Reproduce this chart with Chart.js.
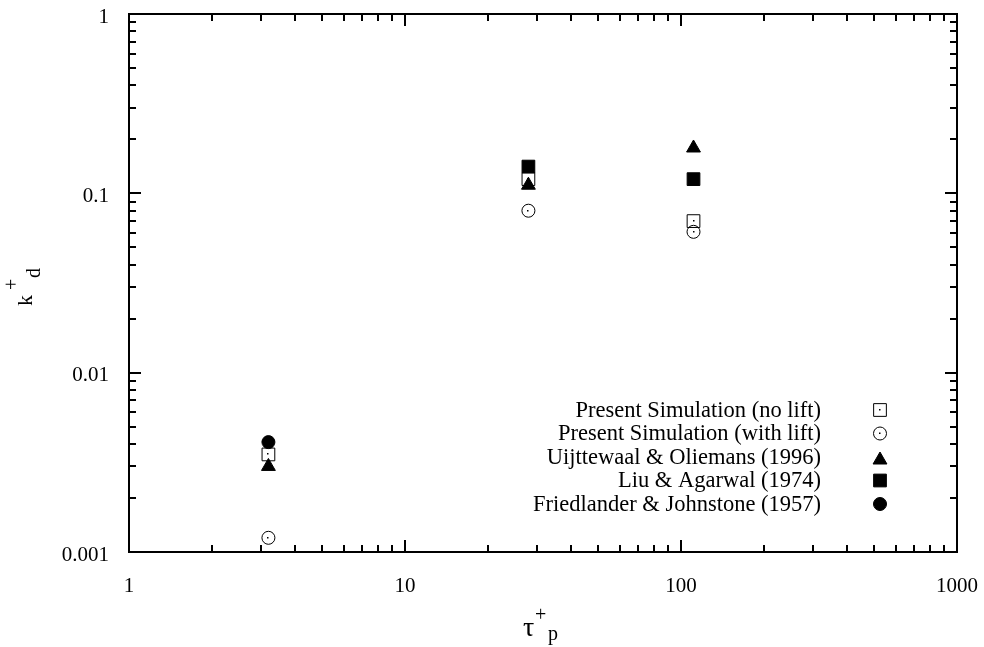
<!DOCTYPE html>
<html>
<head>
<meta charset="utf-8">
<script src="https://cdn.jsdelivr.net/npm/chart.js@4/dist/chart.umd.min.js"></script>
<style>
  html, body { margin: 0; padding: 0; background: #fff; }
</style>
</head>
<body>
<canvas id="plot" width="984" height="647"></canvas>
<script>
// deposition rate k+d against particle relaxation time tau+p
var tauNoLift = [3.2, 28, 111]
var kdNoLift = [0.0035, 0.12, 0.07]
var tauLift = [3.2, 28, 111]
var kdLift = [0.0012, 0.08, 0.061]
var tauUijt = [3.2, 28, 111]
var kdUijt = [0.003, 0.111, 0.179]
var tauLiu = [28, 111]
var kdLiu = [0.141, 0.12]
var tauFried = [3.2]
var kdFried = [0.0041]

var seriesNames = [
    "Present Simulation (no lift)",
    "Present Simulation (with lift)",
    "Uijttewaal & Oliemans (1996)",
    "Liu & Agarwal (1974)",
    "Friedlander & Johnstone (1957)"
]
var xTicks = [1, 10, 100, 1000]
var yTicks = [0.001, 0.01, 0.1, 1]

var FONT = "'Liberation Serif', 'Times New Roman', serif"

function pts(xs, ys){
    return xs.map((x, i) => ({x: x, y: ys[i]}))
}

function makeSet(i, xs, ys, style, radius, filled, order){
    return {
        label: seriesNames[i],
        data: pts(xs, ys),
        pointStyle: style,
        pointRadius: radius,
        pointBorderWidth: 1,
        pointBorderColor: 'black',
        pointBackgroundColor: filled ? 'black' : 'rgba(0,0,0,0)',
        showLine: false,
        centreDot: !filled,
        order: order
    }
}

var datasets = [
    makeSet(0, tauNoLift, kdNoLift, 'rect', 9, false, 5),
    makeSet(1, tauLift, kdLift, 'circle', 6.5, false, 4),
    makeSet(2, tauUijt, kdUijt, 'triangle', 8, true, 3),
    makeSet(3, tauLiu, kdLiu, 'rect', 9, true, 2),
    makeSet(4, tauFried, kdFried, 'circle', 6.5, true, 1)
]

// log decades: long tick at 10^n, short ticks at m*10^n
function tickList(min, max){
    var out = []
    for (var d = Math.round(Math.log10(min)); d < Math.round(Math.log10(max)); d++){
        var base = Math.pow(10, d)
        out.push({v: base, major: true})
        for (var m = 2; m <= 9; m++) out.push({v: m * base, major: false})
    }
    out.push({v: max, major: true})
    return out
}

var framePlugin = {
    id: 'frame',
    beforeDatasetsDraw(chart){
        var ctx = chart.ctx
        var a = chart.chartArea
        var xs = chart.scales.x, ys = chart.scales.y
        ctx.save()
        ctx.strokeStyle = 'black'
        ctx.lineWidth = 2
        ctx.strokeRect(a.left, a.top, a.right - a.left, a.bottom - a.top)
        ctx.beginPath()
        tickList(1, 1000).forEach(t => {
            var px = Math.round(xs.getPixelForValue(t.v))
            var len = t.major ? 12 : 7
            ctx.moveTo(px, a.bottom); ctx.lineTo(px, a.bottom - len)
            ctx.moveTo(px, a.top); ctx.lineTo(px, a.top + len)
        })
        tickList(0.001, 1).forEach(t => {
            var py = Math.round(ys.getPixelForValue(t.v))
            var len = t.major ? 12 : 7
            ctx.moveTo(a.left, py); ctx.lineTo(a.left + len, py)
            ctx.moveTo(a.right, py); ctx.lineTo(a.right - len, py)
        })
        ctx.stroke()
        ctx.restore()
    },
    afterDatasetsDraw(chart){
        var ctx = chart.ctx
        ctx.save()
        ctx.fillStyle = 'black'
        chart.data.datasets.forEach((ds, i) => {
            if (!ds.centreDot) return
            chart.getDatasetMeta(i).data.forEach(p => {
                ctx.fillRect(Math.round(p.x) - 1, Math.round(p.y) - 1, 1.5, 1.5)
            })
        })
        ctx.restore()
    },
    afterDraw(chart){
        var ctx = chart.ctx
        ctx.save()
        ctx.fillStyle = 'black'

        // key, text right-aligned with the symbol to its right
        ctx.font = '22.5px ' + FONT
        ctx.textAlign = 'right'
        ctx.textBaseline = 'middle'
        chart.data.datasets.forEach((ds, i) => {
            var y = 410 + i * 23.5
            ctx.fillText(ds.label, 821, y + 1)
            ctx.fillStyle = ds.pointBackgroundColor
            ctx.strokeStyle = 'black'
            ctx.lineWidth = 1
            Chart.helpers.drawPoint(ctx, {
                pointStyle: ds.pointStyle, radius: ds.pointRadius,
                borderWidth: 1, rotation: 0
            }, 880, ds.pointStyle == 'triangle' ? y + 3 : y)
            if (ds.centreDot){
                ctx.fillStyle = 'black'
                ctx.fillRect(879, y - 1, 1.5, 1.5)
            }
            ctx.fillStyle = 'black'
        })

        // x title: tau with + superscript and p subscript
        ctx.textAlign = 'left'
        ctx.textBaseline = 'alphabetic'
        ctx.font = '28px ' + FONT
        ctx.fillText('\u03C4', 523, 636)
        ctx.font = '20px ' + FONT
        ctx.fillText('+', 535, 621)
        ctx.fillText('p', 548, 640)

        // y title: k with + superscript and d subscript, rotated
        ctx.translate(32, 306)
        ctx.rotate(-Math.PI / 2)
        ctx.font = '22px ' + FONT
        ctx.fillText('k', 0, 0)
        ctx.font = '20px ' + FONT
        ctx.fillText('+', 16, -14)
        ctx.fillText('d', 28, 8)
        ctx.restore()
    }
}

var chart = new Chart(document.getElementById('plot').getContext('2d'), {
    type: 'scatter',
    data: {datasets: datasets},
    options: {
        responsive: false,
        animation: false,
        events: [],
        layout: {padding: {left: 0, top: 14, right: 27, bottom: 0}},
        plugins: {
            legend: {display: false},
            tooltip: {enabled: false}
        },
        scales: {
            x: {
                type: 'logarithmic',
                position: 'bottom',
                min: 1,
                max: 1000,
                grid: {display: false, drawTicks: false},
                border: {display: false},
                afterBuildTicks: s => { s.ticks = xTicks.map(v => ({value: v})) },
                afterFit: s => { s.height = 95; s.paddingLeft = 0; s.paddingRight = 0 },
                ticks: {
                    color: 'black',
                    padding: 22,
                    maxRotation: 0,
                    font: {family: FONT, size: 21},
                    callback: v => String(v)
                }
            },
            y: {
                type: 'logarithmic',
                position: 'left',
                min: 0.001,
                max: 1,
                grid: {display: false, drawTicks: false},
                border: {display: false},
                afterBuildTicks: s => { s.ticks = yTicks.map(v => ({value: v})) },
                afterFit: s => { s.width = 129; s.paddingTop = 0; s.paddingBottom = 0 },
                ticks: {
                    color: 'black',
                    padding: 20,
                    labelOffset: 3,
                    font: {family: FONT, size: 21},
                    callback: v => String(v)
                }
            }
        }
    },
    plugins: [framePlugin]
});
</script>
</body>
</html>
